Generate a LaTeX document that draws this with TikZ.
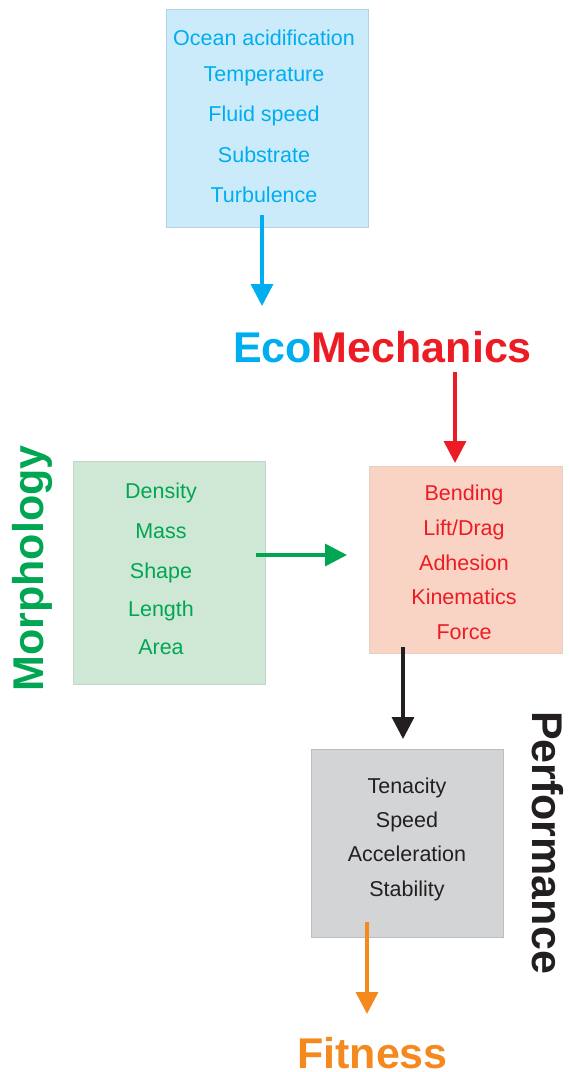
\documentclass[tikz,border=0pt]{standalone}
\usepackage{fontspec}
\setmainfont{Liberation Sans}
\usetikzlibrary{arrows.meta}
\definecolor{ecocyan}{HTML}{00AEEF}
\definecolor{ecored}{HTML}{ED1C24}
\definecolor{ecogreen}{HTML}{00A651}
\definecolor{ecodark}{HTML}{231F20}
\definecolor{ecoorange}{HTML}{F48A1F}
\definecolor{bluefill}{HTML}{CBEBFA}
\definecolor{blueline}{HTML}{B3D3E2}
\definecolor{greenfill}{HTML}{CFE8D6}
\definecolor{greenline}{HTML}{C6D4CB}
\definecolor{redfill}{HTML}{F9D3C4}
\definecolor{redline}{HTML}{E5CEC6}
\definecolor{grayfill}{HTML}{D3D4D6}
\definecolor{grayline}{HTML}{BCBDBF}
\tikzset{
  panel/.style={draw, line width=1pt, inner sep=0pt},
  itemtext/.style={anchor=base, inner sep=0pt, font=\fontsize{21.5}{24}\selectfont},
  bigtext/.style={anchor=base, inner sep=0pt, font=\fontsize{43}{48}\selectfont\bfseries},
  flow/.style={line width=3.5pt, -{Triangle[width=22pt,length=22pt]}},
}
\begin{document}
\begin{tikzpicture}[x=1pt,y=-1pt]
\useasboundingbox (0,0) rectangle (570,1072);
% boxes
\node[panel, fill=bluefill, draw=blueline, minimum width=202pt, minimum height=218pt] (env) at (267,118) {};
\node[panel, fill=greenfill, draw=greenline, minimum width=192pt, minimum height=223pt] (morph) at (169,572.5) {};
\node[panel, fill=redfill, draw=redline, minimum width=193pt, minimum height=187pt] (mech) at (465.5,559.5) {};
\node[panel, fill=grayfill, draw=grayline, minimum width=192pt, minimum height=188pt] (perf) at (407,843) {};
% environment items
\node[itemtext, text=ecocyan] (e1) at (264,45) {Ocean acidification};
\node[itemtext, text=ecocyan] (e2) at (264,81) {Temperature};
\node[itemtext, text=ecocyan] (e3) at (264,121) {Fluid speed};
\node[itemtext, text=ecocyan] (e4) at (264,162) {Substrate};
\node[itemtext, text=ecocyan] (e5) at (264,202) {Turbulence};
% morphology items
\node[itemtext, text=ecogreen] (m1) at (161,498) {Density};
\node[itemtext, text=ecogreen] (m2) at (161,538) {Mass};
\node[itemtext, text=ecogreen] (m3) at (161,578) {Shape};
\node[itemtext, text=ecogreen] (m4) at (161,616) {Length};
\node[itemtext, text=ecogreen] (m5) at (161,654) {Area};
% mechanics items
\node[itemtext, text=ecored] (r1) at (464,500) {Bending};
\node[itemtext, text=ecored] (r2) at (464,535) {Lift/Drag};
\node[itemtext, text=ecored] (r3) at (464,570) {Adhesion};
\node[itemtext, text=ecored] (r4) at (464,604) {Kinematics};
\node[itemtext, text=ecored] (r5) at (464,639) {Force};
% performance items
\node[itemtext, text=ecodark] (p1) at (407,793) {Tenacity};
\node[itemtext, text=ecodark] (p2) at (407,827) {Speed};
\node[itemtext, text=ecodark] (p3) at (407,861) {Acceleration};
\node[itemtext, text=ecodark] (p4) at (407,896) {Stability};
% big labels
\node[bigtext] (eco) at (382.5,362) {\textcolor{ecocyan}{Eco}\textcolor{ecored}{Mechanics}};
\node[bigtext, text=ecogreen, rotate=90] (morphlabel) at (43,568.5) {Morphology};
\node[bigtext, text=ecodark, rotate=-90] (perflabel) at (532,842.5) {Performance};
\node[bigtext, text=ecoorange] (fit) at (372.5,1068) {Fitness};
% connector end points
\coordinate (a1s) at (262,215);
\coordinate (a1e) at (262,306);
\coordinate (a2s) at (455,372);
\coordinate (a2e) at (455,463);
\coordinate (a3s) at (256,555);
\coordinate (a3e) at (347,555);
\coordinate (a4s) at (403,647);
\coordinate (a4e) at (403,739);
\coordinate (a5s) at (367,922);
\coordinate (a5e) at (367,1014);
% connectors
\draw[flow, draw=ecocyan, fill=ecocyan] (a1s) -- (a1e);
\draw[flow, draw=ecored, fill=ecored] (a2s) -- (a2e);
\draw[flow, draw=ecogreen, fill=ecogreen] (a3s) -- (a3e);
\draw[flow, draw=ecodark, fill=ecodark] (a4s) -- (a4e);
\draw[flow, draw=ecoorange, fill=ecoorange] (a5s) -- (a5e);
\end{tikzpicture}
\end{document}
